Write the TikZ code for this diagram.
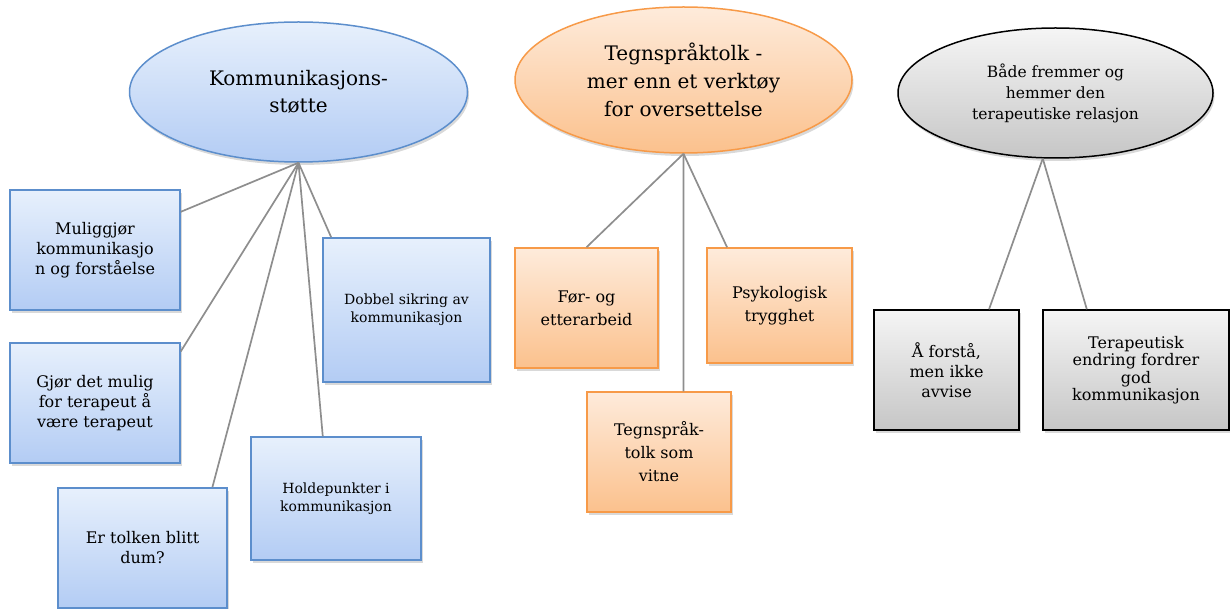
\documentclass[tikz,border=0pt]{standalone}
\usepackage{fontspec}
\setmainfont{DejaVu Serif}
\usetikzlibrary{shapes.geometric,shadows}

\definecolor{blaakant}{HTML}{5C8ECC}
\definecolor{blaatopp}{HTML}{E7F0FC}
\definecolor{blaabunn}{HTML}{B3CCF4}
\definecolor{oransjekant}{HTML}{F79A48}
\definecolor{oransjetopp}{HTML}{FEEBDB}
\definecolor{oransjebunn}{HTML}{FBC18D}
\definecolor{graatopp}{HTML}{F5F5F5}
\definecolor{graabunn}{HTML}{C6C6C6}
\definecolor{linjegraa}{HTML}{8E8E8E}

\tikzset{
  boks/.style={rectangle, line width=1.5pt, align=center, inner sep=2pt,
    drop shadow={opacity=0.3, shadow xshift=1.5pt, shadow yshift=-3pt}},
  blaa/.style={boks, draw=blaakant, top color=blaatopp, bottom color=blaabunn},
  oransje/.style={boks, draw=oransjekant, top color=oransjetopp, bottom color=oransjebunn},
  graa/.style={boks, draw=black, top color=graatopp, bottom color=graabunn},
  tema/.style={ellipse, inner sep=0pt},
  linje/.style={draw=linjegraa, line width=1.7pt},
}

\begin{document}
\begin{tikzpicture}[x=1pt, y=-1pt]
  \useasboundingbox (0,0) rectangle (1230,609);

  % Hovedtema
  \node[blaa, tema, minimum width=338pt, minimum height=140pt,
    font=\fontsize{20}{27}\selectfont] (k1) at (298.5,92) {Kommunikasjons-\\støtte};
  \node[oransje, tema, minimum width=337pt, minimum height=146pt,
    font=\fontsize{20}{28}\selectfont] (k2) at (683.5,80) {Tegnspråktolk -\\mer enn et verktøy\\for oversettelse};
  \node[graa, tema, minimum width=315pt, minimum height=130pt,
    font=\fontsize{15.5}{21}\selectfont] (k3) at (1055.5,93) {Både fremmer og\\hemmer den\\terapeutiske relasjon};

  % Kommunikasjonsstøtte
  \begin{scope}[font=\fontsize{16}{20}\selectfont]
    \node[blaa, minimum width=170pt, minimum height=120pt] (b1) at (95,250) {Muliggjør\\kommunikasjo\\n og forståelse};
    \node[blaa, minimum width=170pt, minimum height=120pt] (b2) at (95,403) {Gjør det mulig\\for terapeut å\\være terapeut};
    \node[blaa, minimum width=169pt, minimum height=120pt] (b3) at (142.5,548) {Er tolken blitt\\dum?};
  \end{scope}
  \begin{scope}[font=\fontsize{14}{18}\selectfont]
    \node[blaa, minimum width=167pt, minimum height=144pt] (b4) at (406.5,310) {Dobbel sikring av\\kommunikasjon};
    \node[blaa, minimum width=170pt, minimum height=123pt] (b5) at (336,498.5) {Holdepunkter i\\kommunikasjon};
  \end{scope}

  % Tegnspråktolk
  \begin{scope}[font=\fontsize{16}{23}\selectfont]
    \node[oransje, minimum width=143pt, minimum height=120pt] (o1) at (586.5,308) {Før- og\\etterarbeid};
    \node[oransje, minimum width=145pt, minimum height=115pt] (o2) at (779.5,305.5) {Psykologisk\\trygghet};
    \node[oransje, minimum width=144pt, minimum height=120pt] (o3) at (659,452) {Tegnspråk-\\tolk som\\vitne};
  \end{scope}

  % Terapeutisk relasjon
  \node[graa, minimum width=145pt, minimum height=120pt,
    font=\fontsize{16}{20}\selectfont] (g1) at (946.5,370) {Å forstå,\\men ikke\\avvise};
  \node[graa, minimum width=186pt, minimum height=120pt,
    font=\fontsize{16}{17.5}\selectfont] (g2) at (1136,370) {Terapeutisk\\endring fordrer\\god\\kommunikasjon};

  % Linjer
  \draw[linje] (k1.south) -- (b1.24);
  \draw[linje] (k1.south) -- (b2.31);
  \draw[linje] (k1.south) -- (b3.41);
  \draw[linje] (k1.south) -- (b5.102);
  \draw[linje] (k1.south) -- (b4.136);

  \draw[linje] (k2.south) -- (o1.north);
  \draw[linje] (k2.south) -- (o3.68);
  \draw[linje] (k2.south) -- (o2.132);

  \draw[linje] (k3.259) -- (g1.55);
  \draw[linje] (k3.259) -- (g2.129);
\end{tikzpicture}
\end{document}
